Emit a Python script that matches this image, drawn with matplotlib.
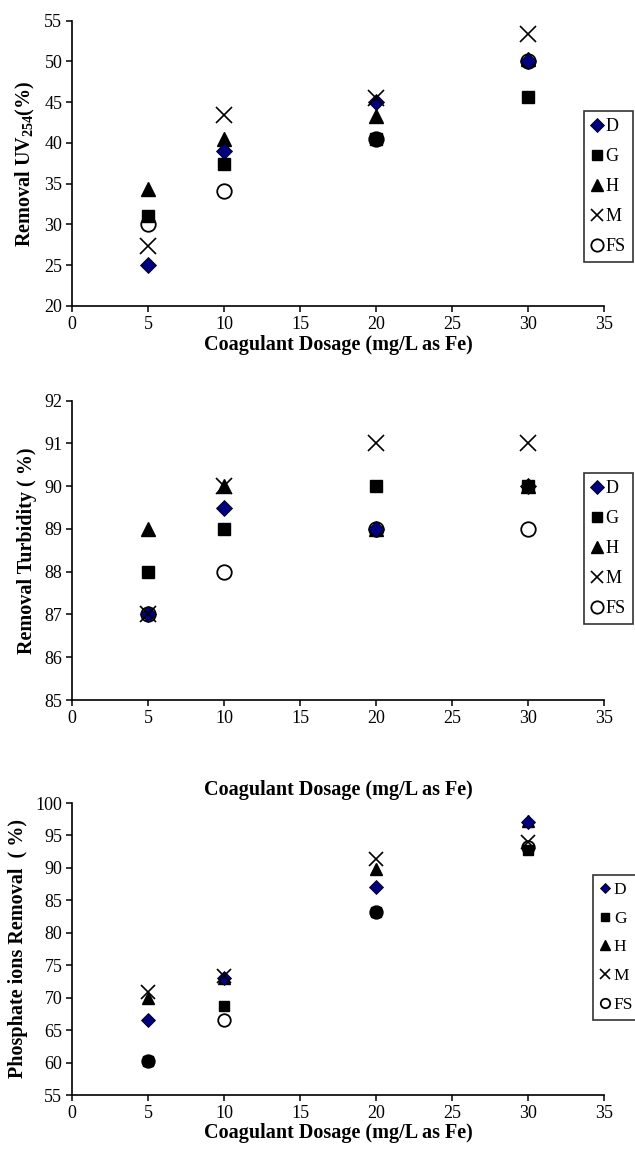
import matplotlib
matplotlib.use("Agg")
import matplotlib.pyplot as plt


# Coagulant dosage, mg/L as Fe
dosage = [5, 10, 20, 30]
names = ["D", "G", "H", "M", "FS"]

# removal of UV254, %
uv_d = [25.0, 39.0, 45.0, 50.0]
uv_g = [31.0, 37.4, 40.5, 45.6]
uv_h = [34.3, 40.5, 43.3, 50.3]
uv_m = [27.3, 43.4, 45.5, 53.4]
uv_fs = [30.0, 34.1, 40.5, 50.0]

# removal of turbidity, %
tu_d = [87.0, 89.5, 89.0, 90.0]
tu_g = [88.0, 89.0, 90.0, 90.0]
tu_h = [89.0, 90.0, 89.0, 90.0]
tu_m = [87.0, 90.0, 91.0, 91.0]
tu_fs = [87.0, 88.0, 89.0, 89.0]

# removal of phosphate ions, %
ph_d = [66.5, 73.0, 87.0, 97.0]
ph_g = [60.2, 68.7, 83.2, 92.8]
ph_h = [70.0, 73.1, 89.8, 97.3]
ph_m = [70.8, 73.4, 91.4, 94.0]
ph_fs = [60.2, 66.6, 83.2, 93.2]

x_ticks = [0, 5, 10, 15, 20, 25, 30, 35]

plt.rcParams['font.family'] = ['Liberation Serif', 'DejaVu Serif']
plt.rcParams['mathtext.fontset'] = 'custom'
plt.rcParams['mathtext.rm'] = 'Liberation Serif'
plt.rcParams['mathtext.bf'] = 'Liberation Serif:bold'

W, H = 635, 1157
fig = plt.figure(figsize=(W / 100, H / 100), dpi=100)


def px_axes(x0, x1, y_top, y_bot):
    return fig.add_axes([x0 / W, 1 - y_bot / H, (x1 - x0) / W, (y_bot - y_top) / H])


def panel(ax, series, ylim, yticks, ylabel, ms, leg_box, xlabel_pad, leg_ms, leg_sp, leg_fs):
    # order of drawing: G square goes on top of the FS circle
    styles = [
        dict(marker='D', color='#000080', mec='black', mew=0.6, ms=ms * 0.75, zorder=4),
        dict(marker='s', color='black', mec='black', ms=ms * 0.8, zorder=5),
        dict(marker='^', color='black', mec='black', ms=ms * 0.95, zorder=3),
        dict(marker='x', color='black', mew=1.2, ms=ms, zorder=6),
        dict(marker='o', color='white', mec='black', mew=1.3, ms=ms * 0.95, zorder=2),
    ]
    for vals, name, st in zip(series, names, styles):
        ax.plot(dosage, vals, linestyle='none', label=name, **st)
    ax.set_xlim(0, 35)
    ax.set_ylim(*ylim)
    ax.set_xticks(x_ticks)
    ax.set_yticks(yticks)
    for s in ['top', 'right']:
        ax.spines[s].set_visible(False)
    for s in ['left', 'bottom']:
        ax.spines[s].set_linewidth(1.2)
    ax.tick_params(direction='out', length=4, width=1.1, labelsize=13, pad=3)
    ax.set_xlabel("Coagulant Dosage (mg/L as Fe)", fontsize=14.5,
                  fontweight='bold', labelpad=xlabel_pad)
    ax.set_ylabel(ylabel, fontsize=14.5, fontweight='bold', labelpad=5)
    ax.patch.set_alpha(0)
    x0, y0 = leg_box
    leg = ax.legend(loc='upper left', bbox_to_anchor=(x0 / W, 1 - y0 / H),
                    bbox_transform=fig.transFigure, borderaxespad=0,
                    fancybox=False, frameon=True, edgecolor='black',
                    fontsize=leg_fs, handlelength=0.6, handletextpad=0.2,
                    labelspacing=leg_sp, borderpad=0.4, markerscale=leg_ms)
    leg.get_frame().set_linewidth(1.2)


ax1 = px_axes(72, 604, 20.5, 306)
panel(ax1, [uv_d, uv_g, uv_h, uv_m, uv_fs], (20, 55), range(20, 56, 5),
      r'Removal UV$_{\mathbf{254}}$(%)', 11, (584, 111), 2, 0.85, 0.72, 13)

ax2 = px_axes(72, 604, 400.7, 700)
panel(ax2, [tu_d, tu_g, tu_h, tu_m, tu_fs], (85, 92), range(85, 93),
      "Removal Turbidity ( %)", 11, (584, 473), 38, 0.85, 0.72, 13)

ax3 = px_axes(72, 604, 803, 1095)
panel(ax3, [ph_d, ph_g, ph_h, ph_m, ph_fs], (55, 100), range(55, 101, 5),
      "Phosphate ions Removal  ( %)", 9.5, (593, 875), 1, 0.75, 0.72, 12.5)

fig.savefig("out.png", dpi=100)
